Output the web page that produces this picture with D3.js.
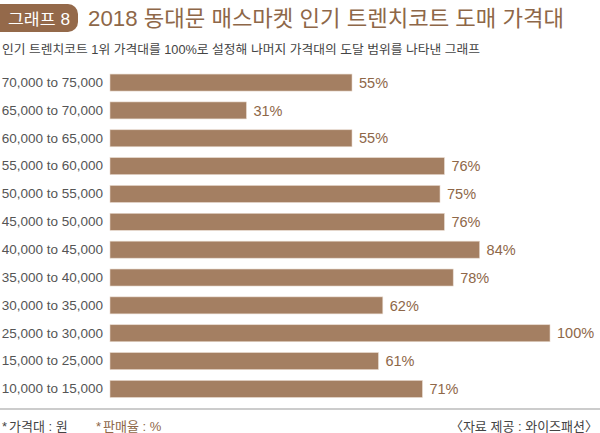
<!DOCTYPE html>
<html><head><meta charset="utf-8">
<script src="https://cdn.jsdelivr.net/npm/d3@7"></script>
<style>html,body{margin:0;padding:0;background:#fff;}svg{display:block;}</style>
</head><body>
<svg id="c" width="600" height="433"></svg>
<script>
const categories = ["70,000 to 75,000","65,000 to 70,000","60,000 to 65,000","55,000 to 60,000","50,000 to 55,000","45,000 to 50,000","40,000 to 45,000","35,000 to 40,000","30,000 to 35,000","25,000 to 30,000","15,000 to 25,000","10,000 to 15,000"];
const values = [55,31,55,76,75,76,84,78,62,100,61,71];
const titleBadge = "그래프 8";
const titleText = "2018 동대문 매스마켓 인기 트렌치코트 도매 가격대";
const subtitle = "인기 트렌치코트 1위 가격대를 100%로 설정해 나머지 가격대의 도달 범위를 나타낸 그래프";
const noteLeft = "가격대 : 원";
const noteMid = "판매율 : %";
const source = "〈자료 제공 : 와이즈패션〉";

const font = "'Liberation Sans','Noto Sans CJK KR',sans-serif";
const svg = d3.select("#c");
const brown = "#a47f62", textBrown = "#8e6748";

// header
svg.append("path").attr("d","M0,4 H68 A10,10 0 0 1 78,14 V22 A10,10 0 0 1 68,32 H0 Z").attr("fill","#94694a");
svg.append("text").attr("x",39).attr("y",24.5).attr("text-anchor","middle").attr("fill","#fff")
  .attr("font-family",font).attr("font-size",16).attr("textLength",62).attr("lengthAdjust","spacingAndGlyphs").text(titleBadge);
svg.append("text").attr("x",88).attr("y",26).attr("fill",textBrown)
  .attr("font-family",font).attr("font-size",21.5).attr("textLength",476).attr("lengthAdjust","spacingAndGlyphs").text(titleText);
svg.append("text").attr("x",2).attr("y",54).attr("fill","#444")
  .attr("font-family",font).attr("font-size",12.5).attr("textLength",478).attr("lengthAdjust","spacingAndGlyphs").text(subtitle);

const x = d3.scaleLinear().domain([0,100]).range([110,550]);
const y = d3.scaleBand().domain(categories).range([68.5,403]).paddingInner(0.39).paddingOuter(0.2);

const g = svg.append("g");
g.selectAll("rect.bar").data(values).join("rect").attr("class","bar")
  .attr("x",x(0)).attr("y",(d,i)=>y(categories[i]))
  .attr("width",d=>x(d)-x(0)).attr("height",y.bandwidth())
  .attr("fill",brown).attr("stroke","#e6d8cc").attr("stroke-width",0.6);

g.selectAll("text.val").data(values).join("text").attr("class","val")
  .attr("x",d=>x(d)+7).attr("y",(d,i)=>y(categories[i])+y.bandwidth()/2)
  .attr("dy","0.36em").attr("fill",textBrown).attr("font-family",font).attr("font-size",14.5)
  .text(d=>d+"%");

const yAxis = d3.axisLeft(y).tickSize(0).tickPadding(0);
const ax = svg.append("g").attr("transform","translate(103,0)").call(yAxis);
ax.select(".domain").remove();
ax.selectAll("text").attr("fill","#555").attr("font-family",font).attr("font-size",13.5);

// footer
svg.append("line").attr("x1",0).attr("x2",600).attr("y1",409).attr("y2",409).attr("stroke","#999").attr("stroke-width",1);
svg.append("text").attr("x",2).attr("y",431).attr("fill","#444").attr("font-family",font).attr("font-size",13)
  .html("<tspan>*</tspan><tspan dx='2'>"+noteLeft+"</tspan>");
svg.append("text").attr("x",96).attr("y",431).attr("fill",textBrown).attr("font-family",font).attr("font-size",13)
  .html("<tspan>*</tspan><tspan dx='2'>"+noteMid+"</tspan>");
svg.append("text").attr("x",598).attr("y",431).attr("text-anchor","end").attr("fill","#444").attr("font-family",font).attr("font-size",13).text(source);
</script>
</body></html>
